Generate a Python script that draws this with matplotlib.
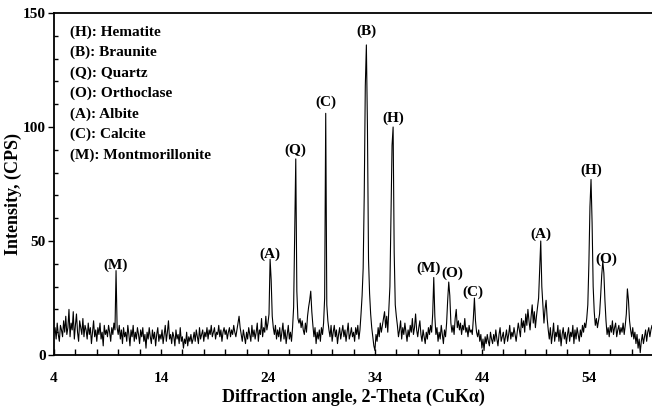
import numpy as np
import matplotlib
matplotlib.use("Agg")
import matplotlib.pyplot as plt
from matplotlib.ticker import MultipleLocator

# 2-theta grid start/step (0.1 deg)
theta_start = 4.0
theta_step = 0.1

# intensity values, one row per degree (4.0 .. 60.0)
intensity = [
    10, 12, 7, 14, 9, 6, 13, 11, 8, 15,      # 4
    10, 17, 9, 12, 20, 8, 14, 11, 19, 7,     # 5
    13, 18, 10, 6, 15, 12, 9, 16, 8, 13,     # 6
    11, 7, 14, 9, 12, 5, 10, 15, 8, 11,      # 7
    6, 12, 9, 14, 7, 10, 4, 13, 9, 11,       # 8
    8, 13, 10, 6, 12, 9, 14, 11, 37, 12,     # 9
    9, 13, 7, 11, 5, 12, 8, 10, 6, 13,       # 10
    9, 4, 11, 8, 13, 6, 10, 7, 12, 9,        # 11
    5, 11, 8, 12, 6, 9, 3, 10, 7, 12,        # 12
    8, 5, 11, 7, 10, 4, 9, 12, 6, 9,         # 13
    7, 11, 5, 9, 13, 6, 10, 15, 7, 9,        # 14
    5, 10, 8, 4, 11, 7, 9, 5, 12, 6,         # 15
    8, 3, 7, 5, 10, 4, 8, 6, 9, 5,           # 16
    7, 10, 6, 11, 8, 5, 12, 7, 9, 11,        # 17
    6, 10, 8, 12, 7, 11, 9, 13, 8, 10,       # 18
    12, 7, 10, 9, 13, 8, 11, 6, 10, 12,      # 19
    9, 11, 7, 10, 12, 8, 11, 9, 13, 10,      # 20
    8, 11, 14, 17, 12, 9, 6, 11, 8, 5,       # 21
    10, 7, 12, 9, 6, 13, 8, 11, 7, 10,       # 22
    14, 6, 11, 9, 16, 8, 12, 10, 17, 11,     # 23
    14, 18, 42, 33, 17, 12, 9, 13, 7, 11,    # 24
    8, 12, 6, 10, 14, 7, 11, 5, 9, 13,       # 25
    7, 10, 6, 12, 21, 55, 86, 28, 16, 14,    # 26
    16, 12, 15, 11, 9, 14, 10, 17, 21, 24,   # 27
    28, 19, 13, 8, 12, 5, 10, 7, 11, 6,      # 28
    12, 9, 14, 25, 106, 22, 15, 11, 8, 13,   # 29
    6, 10, 13, 8, 11, 5, 9, 12, 7, 10,       # 30
    13, 8, 11, 6, 10, 14, 7, 9, 12, 8,       # 31
    10, 6, 12, 9, 13, 7, 11, 18, 26, 38,     # 32
    70, 118, 136, 100, 42, 27, 18, 12, 8, 4, # 33
    2, 9, 6, 12, 8, 14, 10, 13, 16, 19,      # 34
    12, 17, 10, 20, 30, 62, 92, 100, 45, 22, # 35
    17, 13, 8, 11, 15, 7, 12, 9, 14, 10,     # 36
    6, 11, 8, 13, 10, 16, 9, 12, 18, 11,     # 37
    8, 12, 15, 9, 6, 11, 8, 5, 10, 7,        # 38
    12, 9, 13, 10, 18, 34, 17, 9, 12, 6,     # 39
    10, 7, 13, 9, 5, 11, 8, 14, 24, 32,      # 40
    26, 14, 10, 13, 9, 16, 20, 12, 15, 11,   # 41
    14, 9, 13, 11, 16, 10, 12, 8, 13, 10,    # 42
    11, 9, 16, 25, 15, 10, 8, 11, 6, 9,      # 43
    3, 7, 2, 8, 5, 9, 6, 4, 10, 7,           # 44
    5, 9, 6, 11, 7, 4, 9, 12, 6, 8,          # 45
    10, 5, 8, 11, 6, 9, 13, 7, 10, 8,        # 46
    12, 9, 6, 10, 14, 11, 8, 16, 12, 15,     # 47
    10, 18, 13, 20, 15, 11, 17, 22, 14, 19,  # 48
    12, 17, 21, 25, 38, 50, 30, 22, 14, 20,  # 49
    24, 16, 11, 7, 12, 5, 9, 14, 6, 10,      # 50
    8, 13, 6, 11, 4, 9, 12, 7, 10, 5,        # 51
    9, 12, 6, 10, 8, 13, 5, 11, 7, 12,       # 52
    9, 6, 11, 8, 13, 10, 14, 12, 16, 22,     # 53
    40, 65, 77, 58, 30, 19, 13, 16, 12, 15,  # 54
    18, 26, 35, 41, 36, 24, 15, 9, 12, 8,    # 55
    13, 10, 15, 9, 12, 14, 8, 11, 13, 9,     # 56
    12, 10, 14, 9, 13, 18, 29, 24, 15, 11,   # 57
    8, 12, 7, 10, 5, 9, 3, 7, 1, 6,          # 58
    9, 5, 8, 11, 6, 10, 12, 8, 11, 13,       # 59
    10,                                      # 60
]

# peak labels
peak_labels = ["(M)", "(A)", "(Q)", "(C)", "(B)", "(H)", "(M)", "(O)", "(C)", "(A)", "(H)", "(O)"]
peak_label_x = [9.8, 24.2, 26.6, 29.4, 33.2, 35.7, 39.0, 41.2, 43.2, 49.5, 54.2, 55.6]
peak_label_y = [39.5, 44, 90, 111, 142, 104, 38, 36, 27.6, 53, 81, 42]

legend_lines = ["(H): Hematite", "(B): Braunite", "(Q): Quartz", "(O): Orthoclase",
                "(A): Albite", "(C): Calcite", "(M): Montmorillonite"]

x_major_ticks = [4, 14, 24, 34, 44, 54]
y_major_ticks = [0, 50, 100, 150]

theta = theta_start + theta_step * np.arange(len(intensity))

SERIF = ["Liberation Serif", "DejaVu Serif"]
plt.rcParams["font.family"] = SERIF
plt.rcParams["font.weight"] = "bold"

fig = plt.figure(figsize=(6.52, 4.12), dpi=100)
ax = fig.add_axes([54 / 652, 57 / 412, 598 / 652, 342 / 412])

ax.plot(theta, intensity, color="black", linewidth=0.8)

ax.set_xlim(4, 59.9)
ax.set_ylim(0, 150)
ax.set_xticks(x_major_ticks)
ax.set_yticks(y_major_ticks)
ax.xaxis.set_minor_locator(MultipleLocator(2))
ax.yaxis.set_minor_locator(MultipleLocator(10))
ax.tick_params(axis="x", which="both", direction="in", length=4, width=1, labelsize=11, pad=12)
ax.tick_params(axis="y", which="major", direction="out", length=4, width=1, labelsize=11, pad=2)
ax.tick_params(axis="y", which="minor", direction="in", length=3, width=1)
for lab in ax.get_xticklabels() + ax.get_yticklabels():
    lab.set_fontweight("bold")

ax.spines["right"].set_visible(False)
for s in ["left", "bottom", "top"]:
    ax.spines[s].set_linewidth(1.3)

ax.set_xlabel("Diffraction angle, 2-Theta (CuK\u03b1)", fontsize=13, fontweight="bold", labelpad=3)
ax.set_ylabel("Intensity, (CPS)", fontsize=13, fontweight="bold")
ax.yaxis.set_label_coords(-0.053, 0.47)

for lab, px, py in zip(peak_labels, peak_label_x, peak_label_y):
    ax.text(px, py, lab, ha="center", va="center", fontsize=11, fontweight="bold")

for i, line in enumerate(legend_lines):
    ax.text(0.027, 0.944 - i * 0.06, line, transform=ax.transAxes, ha="left", va="center",
            fontsize=11, fontweight="bold")

fig.savefig("out.png", dpi=100)
